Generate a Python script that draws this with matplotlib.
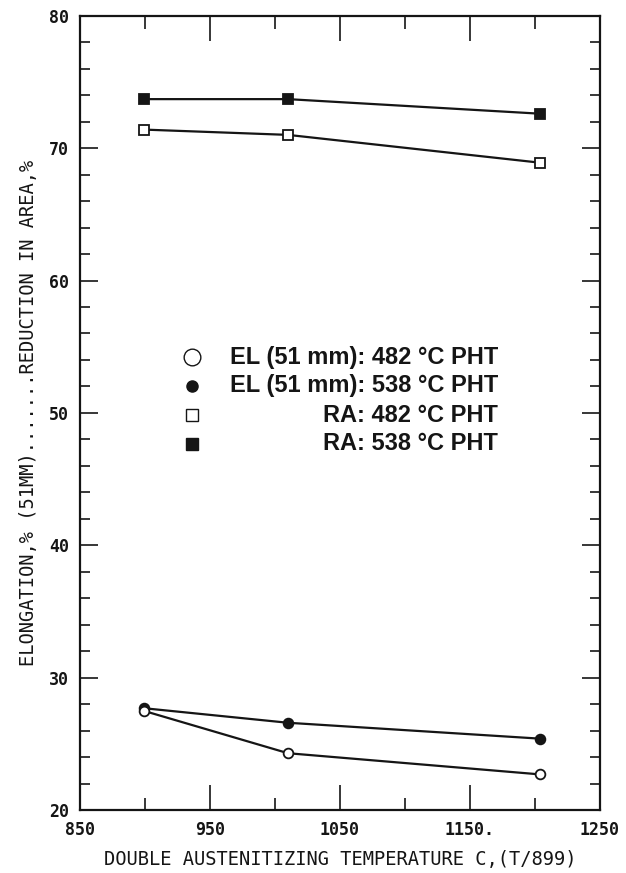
import numpy as np
import matplotlib.pyplot as plt
from matplotlib.ticker import MultipleLocator

# double austenitizing temperature, C
temps = [899, 1010, 1204]

# elongation, % (51 mm)
el_482 = [27.5, 24.3, 22.7]
el_538 = [27.7, 26.6, 25.4]

# reduction in area, %
ra_482 = [71.4, 71.0, 68.9]
ra_538 = [73.7, 73.7, 72.6]

legend_labels = [
    "EL (51 mm): 482 \u00b0C PHT",
    "EL (51 mm): 538 \u00b0C PHT",
    "RA: 482 \u00b0C PHT",
    "RA: 538 \u00b0C PHT",
]

ink = "#151515"
mono = "DejaVu Sans Mono"

fig = plt.figure(figsize=(6.26, 8.73), dpi=100)
ax = fig.add_axes([0.128, 0.072, 0.83, 0.91])

line_kw = dict(color=ink, lw=1.6, markersize=7, markeredgewidth=1.3)
ax.plot(temps, ra_538, marker="s", mfc=ink, mec=ink, **line_kw)
ax.plot(temps, ra_482, marker="s", mfc="white", mec=ink, **line_kw)
ax.plot(temps, el_538, marker="o", mfc=ink, mec=ink, **line_kw)
ax.plot(temps, el_482, marker="o", mfc="white", mec=ink, **line_kw)

ax.set_xlim(850, 1250)
ax.set_ylim(20, 80)
ax.set_xticks([850, 950, 1050, 1150, 1250])
ax.set_xticklabels(["850", "950", "1050", "1150.", "1250"])
ax.xaxis.set_minor_locator(MultipleLocator(50))
ax.set_yticks([20, 30, 40, 50, 60, 70, 80])
ax.yaxis.set_minor_locator(MultipleLocator(2))

ax.tick_params(axis="both", which="both", direction="in", color=ink,
               top=True, right=True, width=1.2)
ax.tick_params(axis="x", which="major", length=18, pad=8)
ax.tick_params(axis="x", which="minor", length=9)
ax.tick_params(axis="y", which="major", length=13, pad=8)
ax.tick_params(axis="y", which="minor", length=7)
for lab in ax.get_xticklabels() + ax.get_yticklabels():
    lab.set_family(mono)
    lab.set_fontsize(12)
    lab.set_weight("bold")
    lab.set_color(ink)
for s in ax.spines.values():
    s.set_linewidth(1.6)
    s.set_color(ink)

ax.set_xlabel("DOUBLE AUSTENITIZING TEMPERATURE C,(T/899)",
              family=mono, fontsize=13.5, color=ink, labelpad=8)
ax.set_ylabel("ELONGATION,% (51MM).......REDUCTION IN AREA,%",
              family=mono, fontsize=13.5, color=ink, labelpad=8)

# legend drawn by hand, labels right-aligned as in the original
rows_y = [0.570, 0.534, 0.497, 0.461]
styles = [("o", "white"), ("o", ink), ("s", "white"), ("s", ink)]
sizes = [12, 8, 9, 9]
for y, (m, fc), ms, lab in zip(rows_y, styles, sizes, legend_labels):
    ax.plot([0.215], [y], marker=m, mfc=fc, mec=ink, mew=1.0,
            markersize=ms, transform=ax.transAxes, clip_on=False)
    ax.text(0.804, y, lab, transform=ax.transAxes, ha="right", va="center",
            family="Liberation Sans", fontsize=17, weight="bold",
            color=ink)

fig.savefig("out.png", dpi=100, facecolor="white")
